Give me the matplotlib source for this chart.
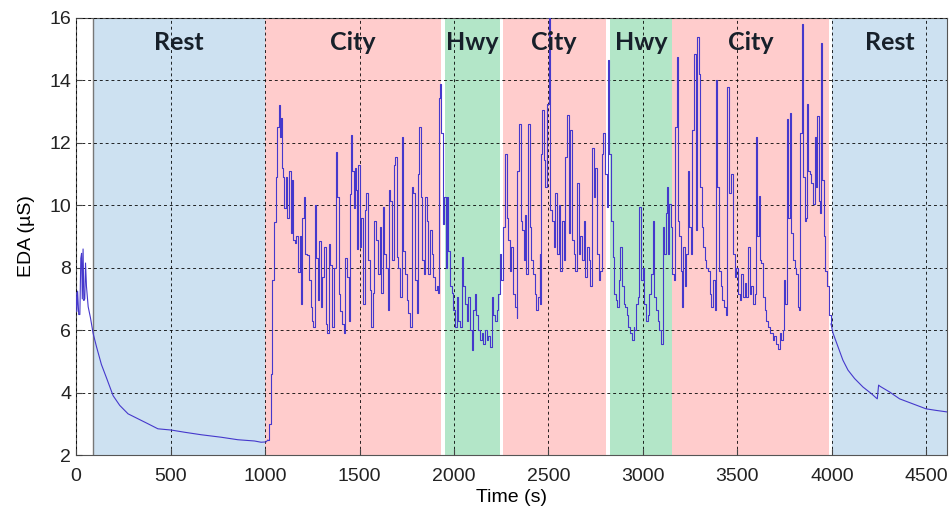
import numpy as np
import matplotlib.pyplot as plt

plt.rcParams['font.family'] = ['Liberation Sans', 'DejaVu Sans']

# EDA trace (time in s, EDA in uS)
t_s = [0, 4, 8, 14, 20, 25, 29, 33, 37, 41, 46, 50, 55, 64, 76, 90, 108, 134, 161, 196,
       231, 275, 328, 381, 433, 504, 574, 662, 768, 856, 944, 979, 1005, 1015,
       1021, 1029, 1038, 1047, 1056, 1065, 1073, 1079, 1084, 1091, 1096, 1102, 1109, 1117,
       1126, 1135, 1144, 1149, 1156, 1165, 1175, 1183, 1190, 1197, 1205, 1214, 1223, 1232,
       1241, 1249, 1256, 1263, 1270, 1281, 1288, 1295, 1302, 1311, 1320, 1329, 1337, 1346,
       1355, 1364, 1373, 1381, 1390, 1399, 1408, 1417, 1425, 1434, 1443, 1448, 1454, 1461,
       1469, 1478, 1482, 1487, 1491, 1500, 1509, 1518, 1527, 1535, 1544, 1553, 1562, 1570,
       1579, 1588, 1597, 1606, 1615, 1623, 1632, 1641, 1650, 1655, 1662, 1671, 1680, 1688,
       1697, 1706, 1715, 1725, 1732, 1741, 1750, 1759, 1768, 1777, 1785, 1794, 1803, 1810,
       1817, 1824, 1831, 1840, 1849, 1856, 1865, 1873, 1882, 1891, 1900, 1908, 1917, 1922,
       1928, 1933, 1940, 1949, 1957, 1964, 1970, 1978, 1987, 1996, 2005, 2014, 2023, 2031,
       2040, 2049, 2058, 2067, 2075, 2084, 2093, 2102, 2111, 2119, 2128, 2137, 2146, 2155,
       2163, 2172, 2181, 2190, 2199, 2207, 2216, 2225, 2234, 2243, 2251, 2260, 2269, 2278,
       2287, 2295, 2304, 2313, 2322, 2331, 2336, 2343, 2352, 2361, 2369, 2376, 2383, 2392,
       2401, 2410, 2419, 2427, 2436, 2445, 2454, 2457, 2463, 2467, 2475, 2483, 2492, 2501,
       2506, 2510, 2519, 2527, 2536, 2545, 2554, 2563, 2571, 2580, 2589, 2598, 2607, 2615,
       2624, 2633, 2642, 2651, 2659, 2668, 2677, 2686, 2695, 2703, 2712, 2721, 2730, 2739,
       2747, 2756, 2765, 2774, 2783, 2791, 2800, 2809, 2814, 2820, 2827, 2832, 2839, 2848,
       2857, 2865, 2874, 2881, 2888, 2897, 2906, 2915, 2923, 2932, 2941, 2950, 2954, 2963,
       2972, 2980, 2989, 2998, 3007, 3016, 3024, 3033, 3042, 3051, 3060, 3068, 3077, 3086,
       3095, 3104, 3112, 3121, 3126, 3134, 3139, 3148, 3156, 3165, 3172, 3178, 3183, 3192,
       3200, 3209, 3214, 3222, 3230, 3236, 3244, 3253, 3262, 3271, 3280, 3288, 3294, 3301,
       3310, 3318, 3327, 3336, 3345, 3354, 3362, 3371, 3380, 3385, 3394, 3403, 3412, 3420,
       3429, 3438, 3446, 3454, 3468, 3476, 3485, 3494, 3503, 3512, 3520, 3529, 3538, 3547,
       3556, 3564, 3573, 3582, 3591, 3600, 3605, 3612, 3619, 3626, 3635, 3644, 3652, 3661,
       3670, 3679, 3688, 3696, 3705, 3714, 3723, 3732, 3740, 3746, 3753, 3760, 3767, 3776,
       3784, 3793, 3802, 3811, 3820, 3827, 3832, 3839, 3846, 3855, 3862, 3869, 3876, 3883,
       3890, 3899, 3908, 3916, 3922, 3929, 3936, 3943, 3950, 3957, 3964, 3973, 3982, 3995,
       4006, 4032, 4058, 4085, 4120, 4164, 4208, 4234, 4240, 4247, 4255, 4305, 4358, 4428,
       4498, 4551, 4610]
eda_us = [7.2, 6.6, 7.25, 6.5, 6.5, 8.3, 8.46, 7.0, 8.6, 6.95, 7.0, 8.15, 7.4, 6.75, 6.4, 5.9, 5.47, 4.9, 4.47, 3.9,
          3.59, 3.32, 3.16, 3.0, 2.84, 2.8, 2.73, 2.65, 2.57, 2.49, 2.45, 2.41, 2.42, 2.48,
          3.0, 4.6, 7.6, 9.45, 10.9, 12.5, 13.2, 12.2, 12.8, 11.2, 10.9, 9.9, 10.9, 9.6,
          11.1, 9.1, 10.8, 8.9, 8.8, 9.0, 7.85, 9.0, 6.85, 9.6, 10.25, 8.45, 8.4, 7.6,
          6.75, 6.3, 6.1, 10.0, 8.3, 6.95, 8.85, 6.75, 7.7, 8.65, 6.2, 5.9, 8.75, 8.1,
          6.1, 8.0, 11.7, 10.25, 7.15, 6.6, 6.2, 5.9, 8.3, 7.7, 6.3, 10.35, 12.25, 11.1,
          9.9, 11.2, 10.5, 8.6, 11.3, 8.65, 9.6, 6.85, 9.85, 10.4, 8.25, 7.3, 6.1, 7.2,
          9.5, 8.9, 7.8, 9.3, 7.2, 9.95, 8.45, 8.0, 6.65, 10.5, 10.15, 8.25, 11.3, 11.55,
          8.35, 8.0, 7.05, 12.2, 8.55, 7.8, 6.95, 6.55, 6.1, 10.6, 10.4, 7.6, 6.55, 11.0,
          12.5, 10.25, 8.25, 7.8, 10.25, 9.5, 7.8, 9.2, 8.45, 7.7, 7.3, 7.4, 7.2, 13.45,
          13.9, 12.3, 9.4, 10.25, 8.0, 10.25, 8.55, 7.4, 7.2, 6.65, 6.1, 7.05, 6.3, 6.1,
          8.35, 7.4, 6.85, 6.3, 7.05, 6.0, 5.35, 6.65, 7.15, 6.5, 6.0, 5.7, 5.9, 5.55,
          6.0, 5.7, 5.8, 5.45, 7.05, 6.5, 6.3, 6.65, 7.15, 8.45, 7.6, 9.3, 11.65, 9.6,
          8.9, 7.9, 8.65, 7.15, 6.75, 6.4, 11.1, 12.6, 9.5, 9.2, 8.25, 9.7, 7.8, 12.6,
          9.3, 8.25, 7.8, 7.15, 6.65, 7.05, 8.45, 6.85, 11.65, 13.05, 11.45, 10.6, 13.25, 16.0,
          14.5, 9.85, 9.5, 8.65, 10.4, 8.45, 10.0, 7.9, 9.5, 8.25, 11.55, 12.9, 9.1, 12.4,
          8.9, 8.45, 7.9, 10.7, 8.45, 9.0, 8.25, 9.5, 7.7, 8.65, 8.25, 7.4, 11.85, 10.25,
          11.2, 8.45, 7.6, 7.9, 11.65, 12.3, 11.0, 9.95, 14.65, 11.65, 11.65, 9.5, 8.35, 7.15,
          6.95, 6.75, 7.6, 8.65, 7.4, 6.85, 6.75, 6.5, 6.1, 5.9, 5.7, 6.1, 6.0, 6.85,
          7.05, 9.95, 7.6, 8.0, 6.85, 6.3, 6.5, 7.15, 7.8, 9.5, 7.05, 6.65, 6.3, 6.0,
          5.55, 9.3, 8.45, 9.75, 10.6, 8.45, 10.05, 9.3, 7.8, 7.6, 12.5, 14.75, 9.5, 9.0,
          7.9, 6.75, 8.65, 7.4, 8.45, 11.1, 9.3, 8.45, 12.4, 14.85, 9.2, 15.4, 14.2, 10.6,
          9.3, 8.65, 8.25, 8.0, 7.9, 7.15, 6.75, 7.6, 6.65, 14.0, 10.6, 7.9, 7.4, 6.95,
          6.75, 6.5, 13.8, 10.4, 11.0, 8.45, 7.7, 8.0, 7.15, 6.95, 7.8, 7.05, 7.5, 7.05,
          8.65, 7.15, 7.4, 6.85, 7.15, 12.2, 9.0, 10.3, 8.25, 8.15, 7.05, 6.65, 6.3, 6.1,
          5.9, 5.9, 5.7, 5.8, 5.55, 5.4, 5.9, 5.7, 6.0, 7.6, 6.85, 12.75, 9.6, 12.95,
          9.1, 8.25, 8.0, 7.8, 6.75, 6.65, 12.3, 15.8, 10.9, 9.5, 9.6, 13.25, 11.1, 11.0,
          10.7, 10.05, 12.2, 10.6, 12.85, 10.15, 9.75, 15.2, 10.8, 9.0, 7.9, 7.4, 6.5, 6.2,
          5.9, 5.47, 5.04, 4.72, 4.45, 4.18, 3.97, 3.83, 3.8, 4.24, 4.2, 4.02, 3.8, 3.64,
          3.48, 3.43, 3.38]

# driving phases
phase_names = ['Rest', 'City', 'Hwy', 'City', 'Hwy', 'City', 'Rest']
phase_start = [90, 1000, 1952, 2258, 2827, 3156, 4000]
phase_end = [1000, 1929, 2246, 2802, 3156, 3985, 4610]
phase_colors = {'Rest': '#cde1f1', 'City': '#ffcccc', 'Hwy': '#b3e6c8'}

t = np.array(t_s)
y = np.array(eda_us)
active = (t >= 1015) & (t <= 3995)
i0 = np.argmax(active)
i1 = len(t) - np.argmax(active[::-1])

fig = plt.figure(figsize=(9.51, 5.13), dpi=100)
ax = fig.add_axes([0.080, 0.113, 0.916, 0.852])

for name, a, b in zip(phase_names, phase_start, phase_end):
    ax.axvspan(a, b, color=phase_colors[name], lw=0, zorder=0)
    ax.text((a + b) / 2, 15.2, name, ha='center', va='center', fontsize=18,
            fontweight='bold', family='Lato', color='#17202a', zorder=5)
ax.axvline(90, color='#777777', lw=1, zorder=1)

line_kw = dict(color='#4538cc', lw=0.8, zorder=3)
ax.plot(t[:i0 + 1], y[:i0 + 1], **line_kw)
ax.plot(t[i0:i1], y[i0:i1], drawstyle='steps-post', **line_kw)
ax.plot(t[i1 - 1:], y[i1 - 1:], **line_kw)

ax.set_xlim(0, 4610)
ax.set_ylim(2, 16)
ax.set_xticks(np.arange(0, 4501, 500))
ax.set_yticks(np.arange(2, 17, 2))
ax.grid(True, color='k', linestyle=(0, (3, 3)), lw=0.7, alpha=0.85)
ax.set_axisbelow(False)
ax.tick_params(direction='in', labelsize=14, length=4, colors='#444444', labelcolor='#222222')
ax.tick_params(axis='x', pad=9)
for s in ax.spines.values():
    s.set_color('#555555')

ax.set_xlabel('Time (s)', fontsize=14, labelpad=3)
ax.set_ylabel('EDA (µS)', fontsize=14, labelpad=10)

plt.savefig('out.png', dpi=100)
